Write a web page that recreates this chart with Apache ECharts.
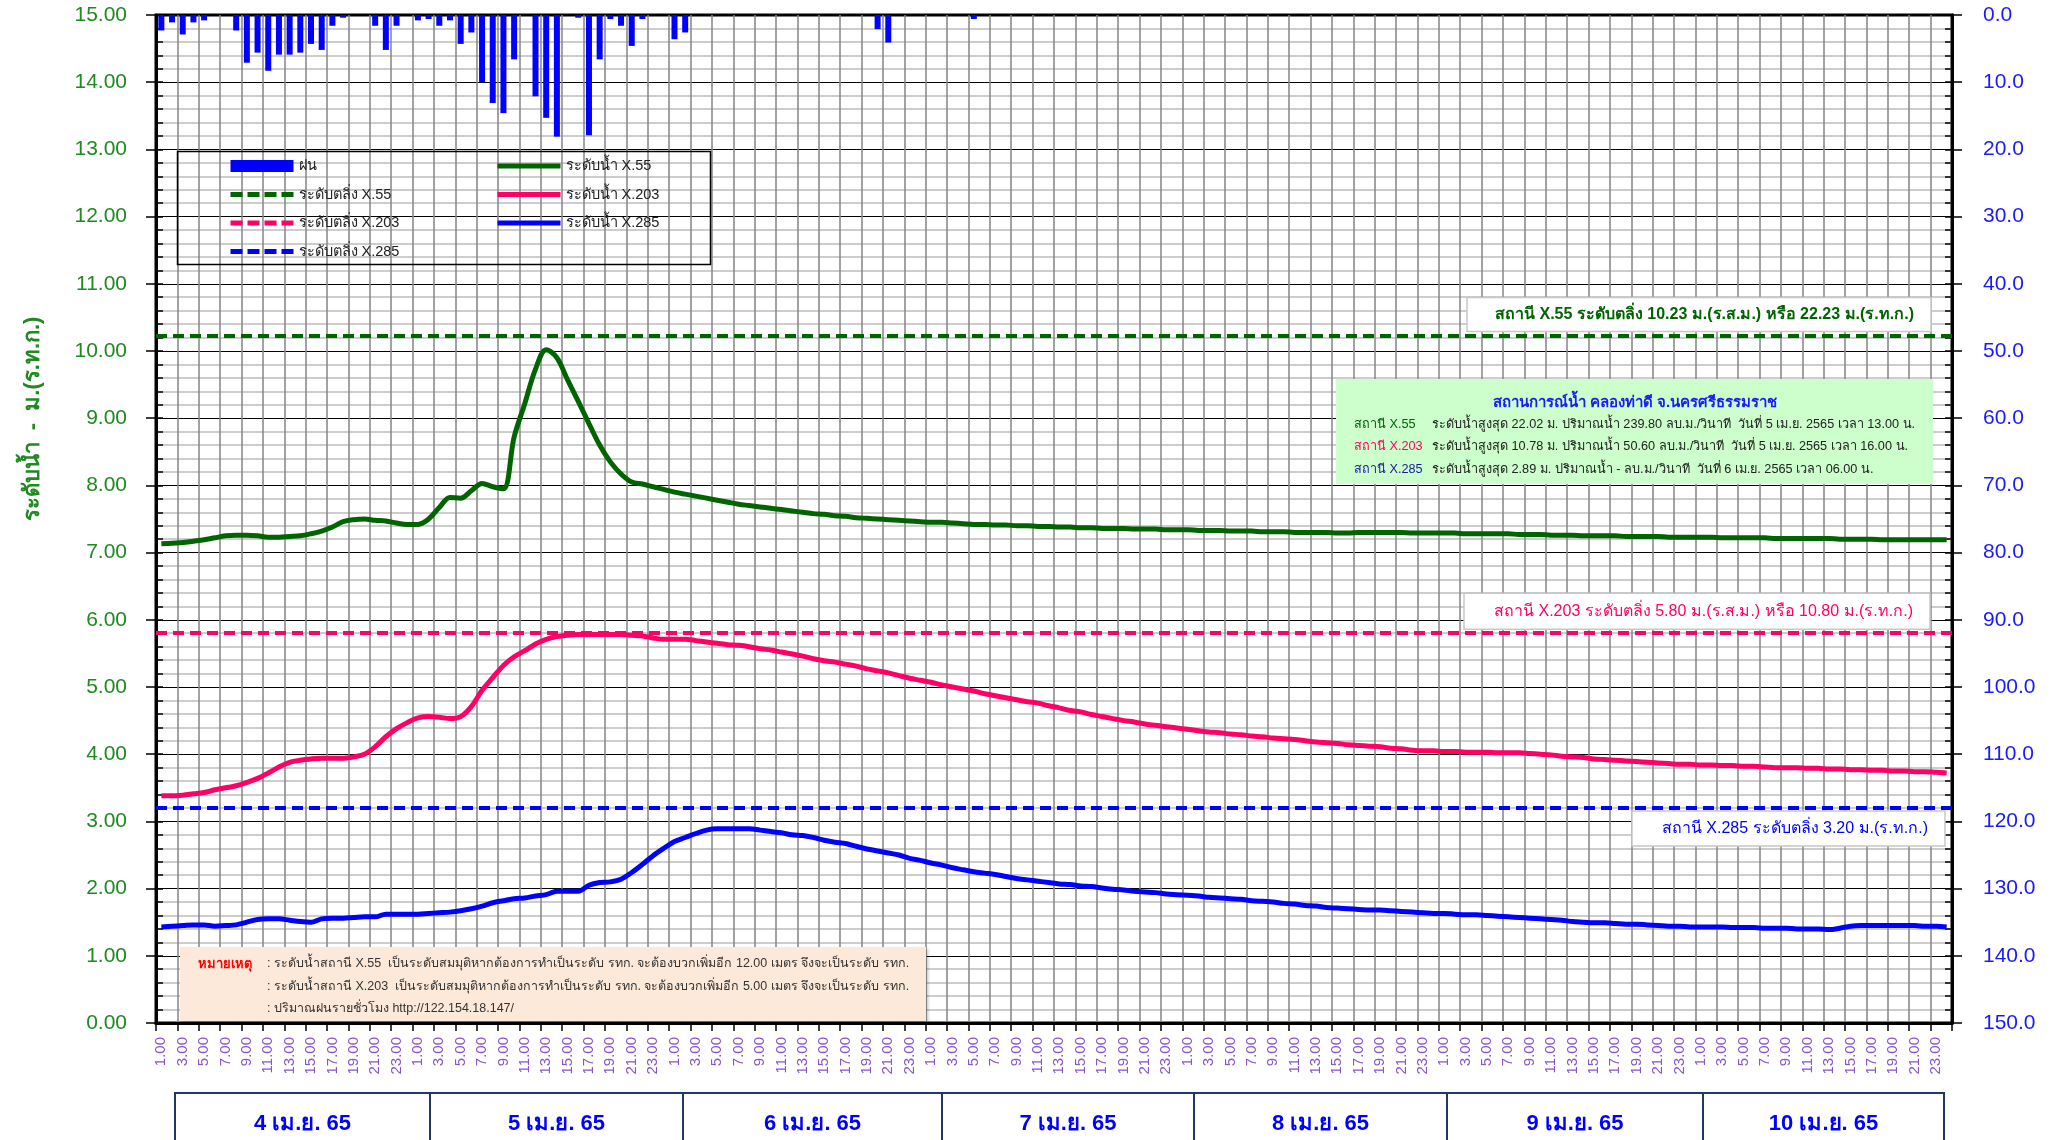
<!DOCTYPE html>
<html><head><meta charset="utf-8">
<script src="https://cdn.jsdelivr.net/npm/echarts@6/dist/echarts.min.js"></script>
<style>html,body{margin:0;padding:0;background:#fff}#c{width:2057px;height:1140px}</style>
</head><body><div id="c"></div>
<script>
// ---------------- DATA ----------------
const days = ['4 เม.ย. 65','5 เม.ย. 65','6 เม.ย. 65','7 เม.ย. 65','8 เม.ย. 65','9 เม.ย. 65','10 เม.ย. 65'];
const hours = ['1.00','2.00','3.00','4.00','5.00','6.00','7.00','8.00','9.00','10.00','11.00','12.00',
               '13.00','14.00','15.00','16.00','17.00','18.00','19.00','20.00','21.00','22.00','23.00','24.00'];
const leftTicks = [0,1,2,3,4,5,6,7,8,9,10,11,12,13,14,15];
const rainTicks = [0,10,20,30,40,50,60,70,80,90,100,110,120,130,140,150];
const bankLevels = [10.23, 5.80, 3.20];   // X.55, X.203, X.285 (bank levels)

const rain = [
 2.3,1.1,2.9,1.1,0.8,0,0,2.3,7.1,5.6,8.3,5.9,5.9,5.6,4.3,5.2,1.6,0.4,0,0,1.6,5.2,1.6,0,
 0.8,0.6,1.6,0.8,4.3,2.6,10.0,13.1,14.6,6.6,0,12.1,15.3,18.1,0,0.4,17.9,6.6,0.6,1.6,4.6,0.6,0,0,
 3.6,2.6,0,0,0,0,0,0,0,0,0,0,0,0,0,0,0,0,0,2.1,4.1,0,0,0,
 0,0,0,0,0.6,0,0,0,0,0,0,0,0,0,0,0,0,0,0,0,0,0,0,0,
 0,0,0,0,0,0,0,0,0,0,0,0,0,0,0,0,0,0,0,0,0,0,0,0,
 0,0,0,0,0,0,0,0,0,0,0,0,0,0,0,0,0,0,0,0,0,0,0,0,
 0,0,0,0,0,0,0,0,0,0,0,0,0,0,0,0,0,0,0,0,0,0,0,0
];
const x55 = [
 7.13,7.14,7.15,7.17,7.19,7.22,7.25,7.26,7.26,7.25,7.23,7.23,7.24,7.25,7.28,7.32,7.38,7.46,7.49,7.50,7.48,7.47,7.44,7.42,
 7.42,7.50,7.67,7.82,7.81,7.92,8.03,7.98,7.95,8.72,9.22,9.73,10.02,9.90,9.57,9.25,8.92,8.60,8.35,8.17,8.05,8.02,7.98,7.94,
 7.90,7.87,7.84,7.81,7.78,7.75,7.72,7.70,7.68,7.66,7.64,7.62,7.60,7.58,7.57,7.55,7.54,7.52,7.51,7.50,7.49,7.48,7.47,7.46,
 7.45,7.45,7.44,7.43,7.42,7.42,7.41,7.41,7.40,7.40,7.39,7.39,7.38,7.38,7.37,7.37,7.36,7.36,7.36,7.35,7.35,7.35,7.34,7.34,
 7.34,7.33,7.33,7.33,7.32,7.32,7.32,7.31,7.31,7.31,7.30,7.30,7.30,7.30,7.29,7.29,7.30,7.30,7.30,7.30,7.30,7.29,7.29,7.29,
 7.29,7.29,7.28,7.28,7.28,7.28,7.28,7.27,7.27,7.27,7.26,7.26,7.26,7.25,7.25,7.25,7.25,7.24,7.24,7.24,7.24,7.23,7.23,7.23,
 7.23,7.23,7.22,7.22,7.22,7.22,7.22,7.21,7.21,7.21,7.21,7.21,7.21,7.20,7.20,7.20,7.20,7.19,7.19,7.19,7.19,7.19,7.19,7.19
];
const x203 = [
 3.38,3.38,3.39,3.41,3.43,3.47,3.50,3.53,3.58,3.64,3.72,3.81,3.88,3.91,3.93,3.94,3.94,3.94,3.96,4.00,4.11,4.26,4.38,4.47,
 4.54,4.56,4.55,4.53,4.56,4.71,4.95,5.14,5.32,5.45,5.54,5.64,5.71,5.75,5.77,5.78,5.78,5.78,5.78,5.78,5.77,5.76,5.73,5.71,
 5.71,5.71,5.69,5.67,5.65,5.63,5.62,5.60,5.57,5.55,5.52,5.49,5.46,5.42,5.39,5.37,5.34,5.31,5.27,5.24,5.21,5.17,5.13,5.10,
 5.07,5.03,5.00,4.97,4.94,4.90,4.87,4.84,4.81,4.78,4.76,4.72,4.69,4.65,4.63,4.59,4.56,4.53,4.50,4.48,4.45,4.43,4.41,4.39,
 4.37,4.35,4.33,4.32,4.30,4.29,4.27,4.26,4.24,4.23,4.22,4.20,4.18,4.17,4.16,4.14,4.13,4.12,4.11,4.09,4.08,4.06,4.05,4.05,
 4.04,4.04,4.03,4.03,4.03,4.02,4.02,4.02,4.01,4.00,3.99,3.97,3.96,3.95,3.93,3.92,3.91,3.90,3.89,3.88,3.87,3.86,3.85,3.85,
 3.84,3.84,3.83,3.83,3.82,3.82,3.81,3.80,3.80,3.80,3.79,3.79,3.78,3.78,3.77,3.77,3.76,3.76,3.75,3.75,3.74,3.74,3.73,3.72
];
const x285 = [
 1.43,1.44,1.45,1.46,1.46,1.44,1.45,1.46,1.50,1.54,1.55,1.55,1.53,1.51,1.50,1.55,1.56,1.56,1.57,1.58,1.58,1.62,1.62,1.62,
 1.62,1.63,1.64,1.65,1.67,1.70,1.74,1.79,1.82,1.85,1.86,1.89,1.91,1.96,1.96,1.96,2.05,2.09,2.10,2.14,2.24,2.36,2.49,2.60,
 2.70,2.76,2.82,2.87,2.89,2.89,2.89,2.89,2.87,2.85,2.83,2.80,2.79,2.76,2.72,2.69,2.67,2.63,2.59,2.56,2.53,2.50,2.45,2.42,
 2.38,2.35,2.31,2.28,2.25,2.23,2.21,2.18,2.15,2.13,2.11,2.09,2.07,2.06,2.04,2.03,2.01,1.99,1.98,1.96,1.95,1.94,1.92,1.91,
 1.90,1.89,1.87,1.86,1.85,1.84,1.82,1.81,1.80,1.78,1.77,1.75,1.74,1.72,1.71,1.70,1.69,1.68,1.68,1.67,1.66,1.65,1.64,1.63,
 1.63,1.62,1.61,1.61,1.60,1.59,1.58,1.57,1.56,1.55,1.54,1.53,1.51,1.50,1.49,1.49,1.48,1.47,1.47,1.46,1.45,1.44,1.44,1.43,
 1.43,1.43,1.43,1.42,1.42,1.42,1.41,1.41,1.41,1.40,1.40,1.40,1.39,1.41,1.44,1.45,1.45,1.45,1.45,1.45,1.45,1.44,1.44,1.43
];
const seriesNames = ['ฝน','ระดับตลิ่ง X.55','ระดับตลิ่ง X.203','ระดับตลิ่ง X.285','ระดับน้ำ X.55','ระดับน้ำ X.203','ระดับน้ำ X.285'];
const bankTexts = ['สถานี X.55 ระดับตลิ่ง 10.23 ม.(ร.ส.ม.) หรือ 22.23 ม.(ร.ท.ก.)',
                   'สถานี X.203 ระดับตลิ่ง 5.80 ม.(ร.ส.ม.) หรือ 10.80 ม.(ร.ท.ก.)',
                   'สถานี X.285 ระดับตลิ่ง 3.20 ม.(ร.ท.ก.)'];
const infoTitle = 'สถานการณ์น้ำ คลองท่าดี จ.นครศรีธรรมราช';
const infoPrefix = ['สถานี X.55','สถานี X.203','สถานี X.285'];
const infoLines = ['ระดับน้ำสูงสุด 22.02 ม. ปริมาณน้ำ 239.80 ลบ.ม./วินาที  วันที่ 5 เม.ย. 2565 เวลา 13.00 น.',
                   'ระดับน้ำสูงสุด 10.78 ม. ปริมาณน้ำ 50.60 ลบ.ม./วินาที  วันที่ 5 เม.ย. 2565 เวลา 16.00 น.',
                   'ระดับน้ำสูงสุด 2.89 ม. ปริมาณน้ำ - ลบ.ม./วินาที  วันที่ 6 เม.ย. 2565 เวลา 06.00 น.'];
const noteHead = 'หมายเหตุ';
const noteLines = [': ระดับน้ำสถานี X.55  เป็นระดับสมมุติหากต้องการทำเป็นระดับ รทก. จะต้องบวกเพิ่มอีก 12.00 เมตร จึงจะเป็นระดับ รทก.',
                   ': ระดับน้ำสถานี X.203  เป็นระดับสมมุติหากต้องการทำเป็นระดับ รทก. จะต้องบวกเพิ่มอีก 5.00 เมตร จึงจะเป็นระดับ รทก.',
                   ': ปริมาณฝนรายชั่วโมง http://122.154.18.147/'];
const yTitle = 'ระดับน้ำ  -  ม.(ร.ท.ก.)';

// ---------------- BUILD ----------------
const cats = [];
days.forEach(d => hours.forEach(h => cats.push(h)));

const FONT = 'Tahoma, "Liberation Sans", "Noto Sans", sans-serif';
const GREEN = '#006400', PINK = '#ff0066', BLUE = '#0000ff';
const lineColors = [GREEN, PINK, BLUE];
const DASH = [11, 6];

const chart = echarts.init(document.getElementById('c'), null, {renderer: 'canvas'});

function bankSeries(i) {
  return {
    name: seriesNames[1 + i], type: 'line', yAxisIndex: 0, data: [], symbol: 'none',
    itemStyle: {color: lineColors[i]},
    lineStyle: {color: lineColors[i], width: 4, type: DASH},
    markLine: {silent: true, symbol: 'none', animation: false,
      label: {show: false},
      lineStyle: {color: lineColors[i], width: 4, type: DASH},
      data: [{yAxis: bankLevels[i]}]}
  };
}
function levelSeries(i, data) {
  return {
    name: seriesNames[4 + i], type: 'line', yAxisIndex: 0, data: data, symbol: 'none',
    smooth: 0.35, z: 5,
    itemStyle: {color: lineColors[i]},
    lineStyle: {color: lineColors[i], width: 5}
  };
}
function legendItem(idx) {
  if (idx === 0) return {name: seriesNames[0], icon: 'rect'};
  const ci = (idx - 1) % 3;
  const dashed = idx <= 3;
  return {name: seriesNames[idx], itemStyle: {opacity: 0},
          lineStyle: {color: lineColors[ci], width: 5, type: dashed ? [12, 5] : 'solid', cap: 'butt'}};
}
const legendText = {fontSize: 14.5, color: '#222', fontFamily: FONT, lineHeight: 16};

const option = {
  animation: false,
  backgroundColor: '#fff',
  textStyle: {fontFamily: FONT},
  grid: {left: 156, right: 105, top: 15, bottom: 117, show: true, borderColor: '#000', borderWidth: 3, backgroundColor: 'transparent'},
  legend: [
    {orient: 'vertical', left: 228, top: 158, padding: 0, itemWidth: 63, itemHeight: 12, itemGap: 12.5,
     data: [0, 1, 2, 3].map(legendItem), textStyle: legendText, selectedMode: false},
    {orient: 'vertical', left: 495, top: 158, padding: 0, itemWidth: 63, itemHeight: 12, itemGap: 12.5,
     data: [4, 5, 6].map(legendItem), textStyle: legendText, selectedMode: false}
  ],
  xAxis: [{
    type: 'category', data: cats, boundaryGap: true,
    axisLine: {show: true, lineStyle: {color: '#000', width: 3}},
    axisTick: {show: true, interval: 1, length: 8, lineStyle: {color: '#000', width: 1.5}},
    axisLabel: {interval: 1, rotate: 90, margin: 14, fontSize: 15, color: '#8a55c8', fontFamily: FONT},
    splitLine: {show: true, interval: 1, lineStyle: {color: '#858585', width: 1.5}}
  }],
  yAxis: [
    {type: 'value', position: 'left', min: leftTicks[0], max: leftTicks[leftTicks.length - 1], interval: 1,
     axisLine: {show: true, lineStyle: {color: '#000', width: 3}},
     axisTick: {show: true, length: 10, lineStyle: {color: '#000', width: 1.5}},
     axisLabel: {margin: 29, fontSize: 21, color: '#1f8a1f', fontFamily: FONT, formatter: v => v.toFixed(2)},
     splitLine: {show: true, lineStyle: {color: '#000', width: 1.2}},
     minorTick: {show: false, splitNumber: 5},
     minorSplitLine: {show: true, lineStyle: {color: '#bdbdbd', width: 1.5}}},
    {type: 'value', position: 'right', inverse: true, min: rainTicks[0], max: rainTicks[rainTicks.length - 1], interval: 10,
     axisLine: {show: true, lineStyle: {color: '#000', width: 3}},
     axisTick: {show: true, length: 10, lineStyle: {color: '#000', width: 1.5}},
     axisLabel: {margin: 31, fontSize: 21, color: '#1a1aff', fontFamily: FONT, formatter: v => v.toFixed(1)},
     splitLine: {show: false}},
    {type: 'value', position: 'left', min: 0, max: 15, interval: 0.2,
     axisLine: {show: false}, axisLabel: {show: false}, splitLine: {show: false},
     axisTick: {show: true, inside: true, length: 7, lineStyle: {color: '#000', width: 1.5}}},
    {type: 'value', position: 'right', inverse: true, min: 0, max: 150, interval: 2,
     axisLine: {show: false}, axisLabel: {show: false}, splitLine: {show: false},
     axisTick: {show: true, inside: true, length: 7, lineStyle: {color: '#000', width: 1.5}}}
  ],
  series: [
    {name: seriesNames[0], type: 'bar', yAxisIndex: 1, data: rain, barWidth: 6, z: 4,
     itemStyle: {color: BLUE}},
    bankSeries(0), bankSeries(1), bankSeries(2),
    levelSeries(0, x55), levelSeries(1, x203), levelSeries(2, x285)
  ]
};
chart.setOption(option);

// ---------------- DECORATION (positions derived from scales) ----------------
const gridRight = 2057 - 105;
const g = [];
// legend box
g.push({type: 'rect', shape: {x: 177.5, y: 151.5, width: 533, height: 113}, style: {fill: 'rgba(255,255,255,0)', stroke: '#000', lineWidth: 1.5}, z: 100});
// y axis title
g.push({type: 'text', x: 33, y: 419, rotation: Math.PI / 2, style: {text: yTitle, fill: '#1f8a1f', font: 'bold 22px ' + FONT, align: 'center', verticalAlign: 'middle'}, z: 100});

// bank labels
const bankBox = [
  {w: 464, h: 34, right: 21, above: true, font: 'bold 16px ' + FONT},
  {w: 466, h: 36, right: 22, above: true, font: '16px ' + FONT},
  {w: 313, h: 35, right: 7, above: false, font: '16px ' + FONT}
];
bankLevels.forEach((lv, i) => {
  const py = chart.convertToPixel({yAxisIndex: 0}, lv);
  const b = bankBox[i];
  const x = gridRight - b.right - b.w;
  const y = b.above ? py - 4 - b.h : py + 3;
  g.push({type: 'rect', shape: {x: x, y: y, width: b.w, height: b.h},
          style: {fill: '#fff', stroke: '#c8c8c8', lineWidth: 1.5}, z: 110});
  g.push({type: 'text', x: x + b.w - 17, y: y + b.h / 2,
          style: {text: bankTexts[i], fill: lineColors[i], font: b.font, align: 'right', verticalAlign: 'middle'}, z: 111});
});

// info box
g.push({type: 'rect', shape: {x: 1336, y: 379, width: 597, height: 105}, style: {fill: '#ccffcc'}, z: 110});
g.push({type: 'text', x: 1635, y: 403, style: {text: infoTitle, fill: '#1a1aff', font: 'bold 15px ' + FONT, align: 'center', verticalAlign: 'middle'}, z: 111});
const prefCol = [GREEN, PINK, '#1a1a99'];
infoLines.forEach((t, i) => {
  const y = 424 + i * 22.5;
  g.push({type: 'text', x: 1354, y: y, style: {text: infoPrefix[i], fill: prefCol[i], font: '12.7px ' + FONT, align: 'left', verticalAlign: 'middle'}, z: 111});
  g.push({type: 'text', x: 1432, y: y, style: {text: t, fill: '#222', font: '12.7px ' + FONT, align: 'left', verticalAlign: 'middle'}, z: 111});
});

// note box
g.push({type: 'rect', shape: {x: 180, y: 947, width: 746, height: 74}, style: {fill: '#fde9d9', shadowColor: 'rgba(0,0,0,0.25)', shadowBlur: 3, shadowOffsetX: 2, shadowOffsetY: 2}, z: 110});
g.push({type: 'text', x: 198, y: 964, style: {text: noteHead, fill: '#ff0000', font: 'bold 13px ' + FONT, align: 'left', verticalAlign: 'middle'}, z: 111});
noteLines.forEach((t, i) => {
  g.push({type: 'text', x: 267, y: 964 + i * 22.5, style: {text: t, fill: '#333', font: '12.5px ' + FONT, align: 'left', verticalAlign: 'middle'}, z: 111});
});

// day boxes
const dayEdges = [175, 430, 683, 942, 1194, 1447, 1703, 1944];
days.forEach((d, i) => {
  const x0 = dayEdges[i], x1 = dayEdges[i + 1];
  g.push({type: 'rect', shape: {x: x0, y: 1093, width: x1 - x0, height: 60}, style: {fill: '#fff', stroke: '#1f3864', lineWidth: 2}, z: 100});
  g.push({type: 'text', x: (x0 + x1) / 2, y: 1124, style: {text: d, fill: '#0000ff', font: 'bold 22px ' + FONT, align: 'center', verticalAlign: 'middle'}, z: 101});
});

chart.setOption({graphic: {elements: g}});
</script>
</body></html>
